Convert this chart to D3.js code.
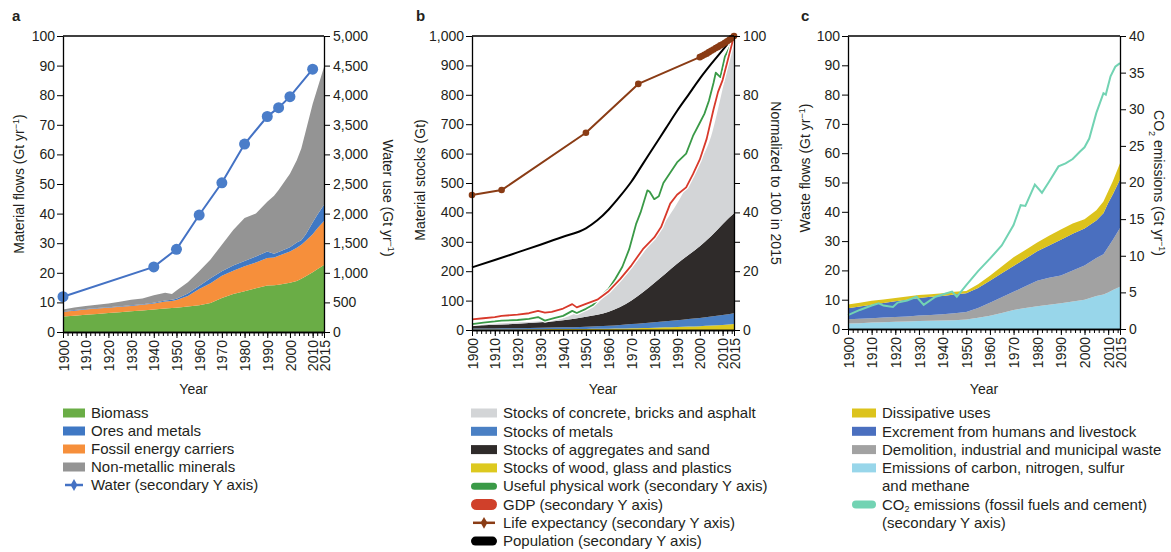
<!DOCTYPE html>
<html>
<head>
<meta charset="utf-8">
<script src="https://cdn.jsdelivr.net/npm/d3@7"></script>
<style>
    body { margin: 0; background: #fff; }
    svg text { font-family: "Liberation Sans", Arial, sans-serif; fill: #231f20; }
    .legend text { font-family: "Liberation Sans Narrow", "Liberation Sans", Arial, sans-serif; font-size: 15px; }
</style>
</head>
<body>
<svg id="main" width="1171" height="552"></svg>
<script>
// ---------------- shared axis labels ----------------
const yearLabels = [1900, 1910, 1920, 1930, 1940, 1950, 1960, 1970, 1980, 1990, 2000, 2010, 2015];
const minorYears = d3.range(1900, 2015, 2).concat([2015]);

// ---------------- panel a : material flows ----------------
const yearsA = [1900,1905,1910,1915,1920,1925,1930,1935,1940,1945,1948,1950,1955,1960,1965,1970,1975,1980,1985,1990,1993,1995,2000,2003,2005,2007,2010,2012,2015];
const biomass     = [5.2,5.5,5.8,6.1,6.4,6.7,7.0,7.3,7.6,7.9,8.1,8.2,8.6,9.0,9.8,11.5,12.8,13.8,14.8,15.7,15.8,16.0,16.6,17.2,18.0,18.8,20.2,21.2,22.6];
const fossil      = [1.6,1.7,1.8,1.8,1.8,1.8,1.8,1.9,2.0,2.4,2.4,2.6,3.6,5.5,6.7,7.5,7.9,8.4,8.7,9.3,9.4,9.8,10.6,11.3,11.5,12.0,12.8,13.8,14.9];
const oresMetals  = [0.2,0.2,0.2,0.2,0.2,0.2,0.2,0.2,0.3,0.3,0.4,0.4,0.8,1.0,1.7,1.5,1.8,1.8,2.0,2.2,1.2,1.2,1.4,1.7,1.5,2.2,4.0,4.5,5.5];
const nonMetallic = [0.6,0.9,1.0,1.1,1.2,1.5,1.9,1.9,2.5,2.7,1.9,2.8,3.8,5.0,6.3,9.0,12.0,14.5,14.5,16.8,19.6,21.0,24.9,27.8,31.0,35.0,40.0,42.5,46.5];
const waterYears = [1900, 1940, 1950, 1960, 1970, 1980, 1990, 1995, 2000, 2010];
const waterUse   = [596, 1100, 1397, 1976, 2520, 3175, 3640, 3790, 3975, 4440];
const ticksA_left  = d3.range(0, 101, 10);
const ticksA_right = d3.range(0, 5001, 500);

// ---------------- panel b : material stocks ----------------
const yearsB = [1900,1910,1920,1930,1940,1945,1950,1955,1960,1965,1970,1975,1980,1985,1990,1995,2000,2005,2010,2015];
const stockWood       = [2,2,2,2.5,3,3,3.5,4,4.5,5,6,7,8,9,10,11.5,13,15,17,20];
const stockMetals     = [3,3.5,4,5,6,6.5,7.5,9,10,12,14,16,18,21,23,26,28,31,34,37];
const stockAggregates = [10,12.5,15,18.5,24,28.5,34,39,47.5,61,80,105,134,162,192,217.5,244,274,309,340];
const stockConcrete   = [4,4,5,4,7,17,35,48,63,87,110,132,155,178,205,245,285,340,460,593];

const workYears = [1900,1905,1910,1913,1920,1925,1929,1932,1936,1940,1944,1946,1950,1953,1955,1958,1960,1963,1966,1969,1972,1974,1977,1978,1980,1982,1984,1987,1990,1994,1997,2000,2002,2004,2006,2007,2009,2011,2013,2015];
const usefulWork = [2.0,2.5,2.9,3.2,3.4,3.8,4.4,3.2,4.0,4.8,6.5,5.8,7.2,8.5,10,12.5,14,17.5,21.5,27.5,36,40,47.5,47,44.5,45.5,50,53.5,57,60,66,70.5,73.5,78,84,87.5,86,93,96,100];
const gdpYears = [1900,1905,1910,1913,1920,1925,1929,1932,1935,1940,1944,1946,1950,1955,1960,1965,1970,1975,1980,1983,1987,1990,1994,1997,2000,2003,2006,2008,2010,2012,2013,2015];
const gdp      = [3.6,4.0,4.4,4.8,5.2,5.7,6.5,5.9,6.2,7.3,8.8,7.7,8.9,10.3,13.2,17.3,22,27.5,31.5,35,43,46,48.5,53,58,65,75,81,85,91,94,100];
const lifeYears = [1900,1913,1950,1973,2000,2001,2002,2003,2004,2005,2006,2007,2008,2009,2010,2011,2012,2013,2014,2015];
const lifeExp   = [45.9,47.6,67.1,83.7,92.8,93.2,93.6,94.0,94.5,95.0,95.4,95.9,96.3,96.8,97.2,97.7,98.2,98.7,99.3,100];
const popYears = [1900,1910,1920,1930,1940,1950,1955,1960,1965,1970,1975,1980,1985,1990,1995,2000,2005,2010,2015];
const population = [21.3,23.8,26.4,29,31.7,34.6,37.3,41,45.5,50.5,56.5,62.5,68.5,74.5,80,85.5,90.5,95.2,100];
const ticksB_left  = d3.range(0, 1001, 100);
const ticksB_right = d3.range(0, 101, 10);

// ---------------- panel c : waste flows ----------------
const yearsC = [1900,1905,1910,1915,1920,1925,1930,1935,1940,1945,1950,1955,1960,1965,1970,1975,1980,1985,1990,1995,2000,2005,2008,2010,2012,2015];
const wasteEmissions   = [1.9,2.0,2.2,2.3,2.5,2.6,2.7,2.8,2.9,3.0,3.2,3.8,4.5,5.5,6.5,7.2,7.8,8.3,8.8,9.4,10.0,11.3,11.8,12.5,13.3,14.4];
const wasteDemolition  = [1.4,1.5,1.5,1.6,1.6,1.7,1.9,2.0,2.1,2.4,2.6,3.4,4.5,5.3,6.2,7.4,8.7,9.2,9.5,10.6,11.7,12.9,13.7,15.5,17.2,20.1];
const wasteExcrement   = [3.8,4.2,4.6,5.0,5.4,5.7,6.0,6.2,6.3,6.4,6.4,6.8,7.5,8.2,8.8,9.4,10.0,11.0,12.2,12.5,12.6,12.8,14.0,15.0,15.5,16.5];
const wasteDissipative = [1.3,1.3,1.3,1.2,1.1,1.1,1.0,0.9,0.9,0.9,0.8,1.3,1.7,2.3,3.0,3.0,3.0,3.3,3.5,3.5,3.2,3.5,4.0,4.0,4.5,5.6];
const co2Years = [1900,1905,1910,1913,1915,1919,1921,1925,1929,1932,1937,1940,1944,1946,1950,1955,1960,1965,1970,1973,1975,1979,1982,1985,1989,1992,1995,1998,2000,2002,2005,2008,2009,2011,2013,2015];
const co2      = [1.9,2.6,3.2,3.5,3.2,3.0,3.6,3.9,4.4,3.3,4.4,4.7,5.1,4.4,6.0,7.9,9.6,11.4,14.2,16.9,16.8,19.7,18.6,20.1,22.2,22.6,23.2,24.2,24.8,26,29.5,32.2,32.0,34.5,35.8,36.3];
const ticksC_left  = d3.range(0, 101, 10);
const ticksC_right = d3.range(0, 41, 5);

const svg = d3.select('#main');

function makePanel(c) {
    let p = {c: c};
    p.x = d3.scaleLinear().domain([1900, 2015]).range([c.left, c.right]);
    p.yL = d3.scaleLinear().domain([0, c.leftMax]).range([c.bottom, c.top]);
    p.yR = d3.scaleLinear().domain([0, c.rightMax]).range([c.bottom, c.top]);
    p.g = svg.append('g');
    return p;
}

function drawFrame(p) {
    let c = p.c;
    let ax = p.g.append('g').attr('class', 'axes');

    ax.append('g')
        .attr('transform', `translate(0,${c.bottom})`)
        .call(d3.axisBottom(p.x).tickValues(minorYears).tickSize(4).tickSizeOuter(0).tickFormat(''));
    ax.append('g')
        .attr('transform', `translate(0,${c.bottom})`)
        .call(d3.axisBottom(p.x).tickValues(yearLabels).tickSize(6).tickSizeOuter(0).tickFormat(d3.format('d')))
        .selectAll('text')
        .attr('transform', 'rotate(-90)')
        .attr('text-anchor', 'end')
        .attr('x', -8)
        .attr('y', 0)
        .attr('dy', '0.36em');

    ax.append('g')
        .attr('transform', `translate(${c.left},0)`)
        .call(d3.axisLeft(p.yL).tickValues(c.leftTicks).tickSize(6).tickSizeOuter(0).tickPadding(2).tickFormat(d3.format(',')));
    ax.append('g')
        .attr('transform', `translate(${c.right},0)`)
        .call(d3.axisRight(p.yR).tickValues(c.rightTicks).tickSize(6).tickSizeOuter(0).tickPadding(3).tickFormat(c.rightFormat));

    // top border
    ax.append('line')
        .attr('x1', c.left).attr('x2', c.right)
        .attr('y1', c.top).attr('y2', c.top)
        .attr('stroke', '#000').attr('stroke-width', 1.3);

    ax.selectAll('g').attr('font-family', null).attr('font-size', null);
    ax.selectAll('.domain').attr('stroke', '#000').attr('stroke-width', 1.3);
    ax.selectAll('.tick line').attr('stroke', '#000').attr('stroke-width', 1);
    ax.selectAll('.tick text').attr('font-size', '14px').attr('fill', '#231f20');

    // x title
    p.g.append('text')
        .attr('x', (c.left + c.right) / 2)
        .attr('y', 394)
        .attr('text-anchor', 'middle')
        .attr('font-size', '14px')
        .text('Year');

    // panel letter
    p.g.append('text')
        .attr('x', c.letterX)
        .attr('y', 21)
        .attr('font-size', '15px')
        .attr('font-weight', 'bold')
        .text(c.letter);
}

// rotated axis title made of pieces: [text, 'sup'|'sub'|null]
function axisTitle(x, y, angle, parts) {
    let t = svg.append('text')
        .attr('transform', `translate(${x},${y}) rotate(${angle})`)
        .attr('text-anchor', 'middle')
        .attr('dy', '0.35em')
        .attr('font-size', '14px');
    parts.forEach(function (pt) {
        let s = t.append('tspan').text(pt[0]);
        if (pt[1] === 'sup') { s.attr('baseline-shift', 'super').attr('font-size', '9px'); }
        if (pt[1] === 'sub') { s.attr('baseline-shift', 'sub').attr('font-size', '9px'); }
    });
}

function legend(x, y0, step, items) {
    let g = svg.append('g').attr('class', 'legend');
    let row = 0;
    items.forEach(function (it) {
        let y = y0 + row * step;
        let sw = it.w || 22;
        if (it.type === 'rect') {
            g.append('rect').attr('x', x).attr('y', y - 4.5).attr('width', sw).attr('height', 9).attr('fill', it.color);
        } else if (it.type === 'bar') {
            g.append('rect').attr('x', x).attr('y', y - it.h / 2).attr('width', sw).attr('height', it.h)
                .attr('rx', it.h / 2).attr('fill', it.color);
        } else if (it.type === 'marker') {
            g.append('line').attr('x1', x + 2).attr('x2', x + sw - 2).attr('y1', y).attr('y2', y)
                .attr('stroke', it.color).attr('stroke-width', 2.5);
            g.append('path').attr('transform', `translate(${x + sw / 2},${y})`)
                .attr('d', d3.symbol(d3.symbolDiamond, 40)()).attr('fill', it.color);
        }
        let lines = [].concat(it.label);
        lines.forEach(function (ln, i) {
            let t = g.append('text').attr('x', x + sw + 6).attr('y', y + i * step).attr('dy', '0.35em');
            [].concat(ln).forEach(function (pt) {
                if (typeof pt === 'string') { t.append('tspan').text(pt); }
                else { t.append('tspan').text(pt[0]).attr('baseline-shift', '-2px').attr('font-size', '9px'); }
            });
        });
        row += lines.length;
    });
}

// ================= panel a =================
let pa = makePanel({left: 63, right: 324, top: 36, bottom: 332, leftMax: 100, rightMax: 5000,
    leftTicks: ticksA_left, rightTicks: ticksA_right, rightFormat: d3.format(','), letter: 'a', letterX: 12});

let rowsA = yearsA.map((yr, i) => ({year: yr, biomass: biomass[i], fossil: fossil[i], ores: oresMetals[i], nonmet: nonMetallic[i]}));
let seriesA = d3.stack().keys(['biomass', 'fossil', 'ores', 'nonmet'])(rowsA);
let colorsA = {biomass: '#6aad46', fossil: '#f68f3b', ores: '#3f78c4', nonmet: '#949494'};
let areaA = d3.area().x(d => pa.x(d.data.year)).y0(d => pa.yL(d[0])).y1(d => pa.yL(d[1]));
pa.g.selectAll('.layer').data(seriesA).enter().append('path')
    .attr('class', 'layer').attr('d', areaA).attr('fill', d => colorsA[d.key]);

let waterPts = waterYears.map((yr, i) => ({year: yr, v: waterUse[i]}));
pa.g.append('path').datum(waterPts)
    .attr('d', d3.line().x(d => pa.x(d.year)).y(d => pa.yR(d.v)))
    .attr('fill', 'none').attr('stroke', '#4472c4').attr('stroke-width', 2);
pa.g.selectAll('.wdot').data(waterPts).enter().append('circle')
    .attr('class', 'wdot').attr('cx', d => pa.x(d.year)).attr('cy', d => pa.yR(d.v))
    .attr('r', 5.5).attr('fill', '#4a7dc9');
drawFrame(pa);

// ================= panel b =================
let pb = makePanel({left: 472, right: 734, top: 36, bottom: 330, leftMax: 1000, rightMax: 100,
    leftTicks: ticksB_left, rightTicks: ticksB_right, rightFormat: d => d % 20 === 0 ? d : '', letter: 'b', letterX: 416});

let rowsB = yearsB.map((yr, i) => ({year: yr, wood: stockWood[i], metals: stockMetals[i], aggr: stockAggregates[i], concrete: stockConcrete[i]}));
let seriesB = d3.stack().keys(['wood', 'metals', 'aggr', 'concrete'])(rowsB);
let colorsB = {wood: '#ddc91f', metals: '#4a80c4', aggr: '#2f2b2a', concrete: '#d3d5d7'};
let areaB = d3.area().curve(d3.curveMonotoneX).x(d => pb.x(d.data.year)).y0(d => pb.yL(d[0])).y1(d => pb.yL(d[1]));
pb.g.selectAll('.layer').data(seriesB).enter().append('path')
    .attr('class', 'layer').attr('d', areaB).attr('fill', d => colorsB[d.key]);

function lineB(years, vals, color, width, halo, curve) {
    let pts = years.map((yr, i) => ({year: yr, v: vals[i]}));
    let ln = d3.line().curve(curve || d3.curveLinear).x(d => pb.x(d.year)).y(d => pb.yR(d.v));
    if (halo) {
        pb.g.append('path').datum(pts).attr('d', ln).attr('fill', 'none')
            .attr('stroke', '#fff').attr('stroke-width', width + 2.5).attr('stroke-linejoin', 'round');
    }
    pb.g.append('path').datum(pts).attr('d', ln).attr('fill', 'none')
        .attr('stroke', color).attr('stroke-width', width).attr('stroke-linejoin', 'round');
    return pts;
}
lineB(popYears, population, '#000', 2, false, d3.curveMonotoneX);
lineB(workYears, usefulWork, '#3a9a47', 1.8, true);
lineB(gdpYears, gdp, '#d8392b', 1.8, true);
let lifePts = lineB(lifeYears, lifeExp, '#8a3c15', 2, false);
pb.g.selectAll('.ldot').data(lifePts).enter().append('circle')
    .attr('class', 'ldot')
    .attr('cx', d => pb.x(d.year))
    .attr('cy', d => pb.yR(d.v))
    .attr('r', 3.3)
    .attr('fill', '#8a3c15');
drawFrame(pb);

// ================= panel c =================
let pc = makePanel({left: 848, right: 1120, top: 36, bottom: 329, leftMax: 100, rightMax: 40,
    leftTicks: ticksC_left, rightTicks: ticksC_right, rightFormat: d3.format('d'), letter: 'c', letterX: 801});

let rowsC = yearsC.map((yr, i) => ({year: yr, emis: wasteEmissions[i], demo: wasteDemolition[i], excr: wasteExcrement[i], diss: wasteDissipative[i]}));
let seriesC = d3.stack().keys(['emis', 'demo', 'excr', 'diss'])(rowsC);
let colorsC = {emis: '#98d6ea', demo: '#a2a2a2', excr: '#4a6fbf', diss: '#dcc31c'};
let areaC = d3.area().x(d => pc.x(d.data.year)).y0(d => pc.yL(d[0])).y1(d => pc.yL(d[1]));
pc.g.selectAll('.layer').data(seriesC).enter().append('path')
    .attr('class', 'layer').attr('d', areaC).attr('fill', d => colorsC[d.key]);

let co2Pts = co2Years.map((yr, i) => ({year: yr, v: co2[i]}));
pc.g.append('path').datum(co2Pts)
    .attr('d', d3.line().x(d => pc.x(d.year)).y(d => pc.yR(d.v)))
    .attr('fill', 'none').attr('stroke', '#72d3b3').attr('stroke-width', 2);
drawFrame(pc);

// ================= axis titles =================
axisTitle(19, 184, -90, [['Material flows (Gt yr'], ['\u22121', 'sup'], [')']]);
axisTitle(388, 198, 90, [['Water use (Gt yr'], ['\u22121', 'sup'], [')']]);
axisTitle(420, 180, -90, [['Material stocks (Gt)']]);
axisTitle(776, 183, 90, [['Normalized to 100 in 2015']]);
axisTitle(805, 168, -90, [['Waste flows (Gt yr'], ['\u22121', 'sup'], [')']]);
axisTitle(1159, 183, 90, [['CO'], ['2', 'sub'], [' emissions (Gt yr'], ['\u22121', 'sup'], [')']]);

// ================= legends =================
legend(63, 413, 18, [
    {label: 'Biomass', type: 'rect', color: colorsA.biomass},
    {label: 'Ores and metals', type: 'rect', color: colorsA.ores},
    {label: 'Fossil energy carriers', type: 'rect', color: colorsA.fossil},
    {label: 'Non-metallic minerals', type: 'rect', color: colorsA.nonmet},
    {label: 'Water (secondary Y axis)', type: 'marker', color: '#4472c4'}
]);
legend(471, 413, 18.3, [
    {label: 'Stocks of concrete, bricks and asphalt', type: 'rect', color: colorsB.concrete, w: 26},
    {label: 'Stocks of metals', type: 'rect', color: colorsB.metals, w: 26},
    {label: 'Stocks of aggregates and sand', type: 'rect', color: colorsB.aggr, w: 26},
    {label: 'Stocks of wood, glass and plastics', type: 'rect', color: colorsB.wood, w: 26},
    {label: 'Useful physical work (secondary Y axis)', type: 'bar', color: '#3a9a47', w: 26, h: 7},
    {label: 'GDP (secondary Y axis)', type: 'bar', color: '#d0402a', w: 26, h: 11},
    {label: 'Life expectancy (secondary Y axis)', type: 'marker', color: '#8a3c15', w: 26},
    {label: 'Population (secondary Y axis)', type: 'bar', color: '#000', w: 26, h: 9}
]);
legend(852, 413, 18.3, [
    {label: 'Dissipative uses', type: 'rect', color: colorsC.diss, w: 24},
    {label: 'Excrement from humans and livestock', type: 'rect', color: colorsC.excr, w: 24},
    {label: 'Demolition, industrial  and municipal waste', type: 'rect', color: colorsC.demo, w: 24},
    {label: ['Emissions of carbon, nitrogen, sulfur', 'and methane'], type: 'rect', color: colorsC.emis, w: 24},
    {label: [['CO', ['2'], ' emissions (fossil fuels and cement)'], '(secondary Y axis)'], type: 'bar', color: '#72d3b3', w: 24, h: 8}
]);
</script>
</body>
</html>
